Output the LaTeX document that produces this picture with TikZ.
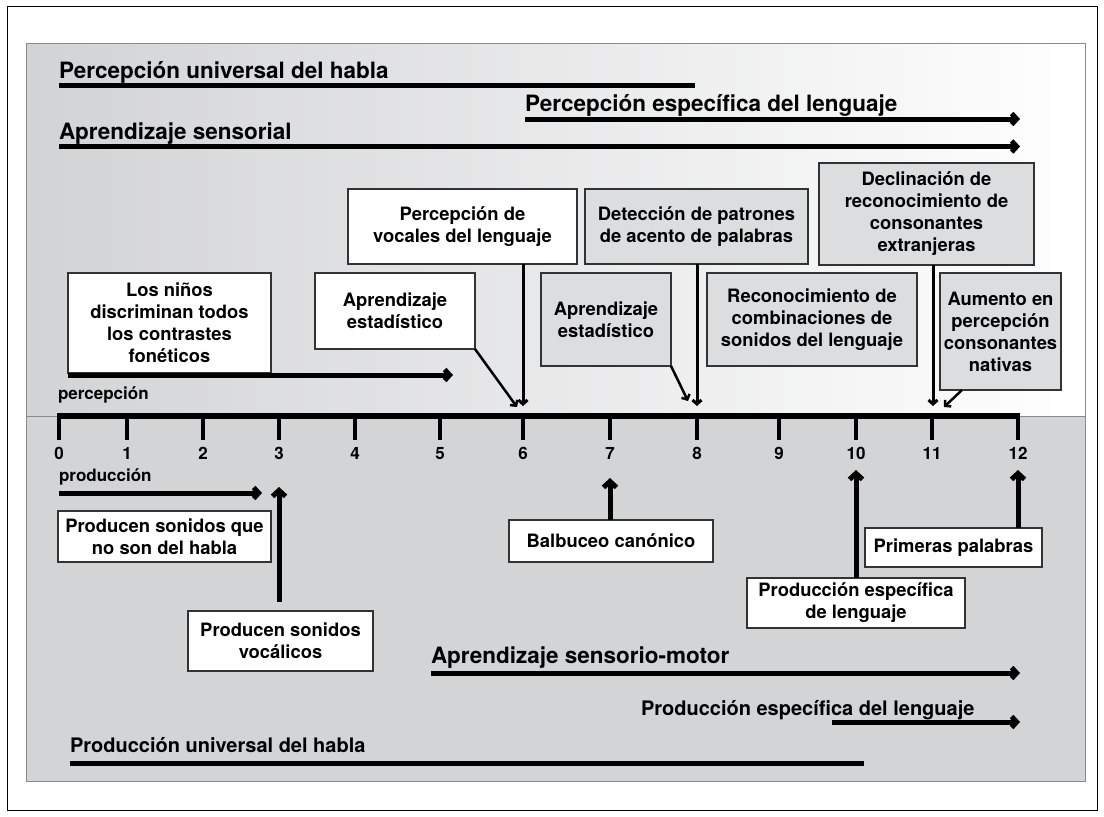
\documentclass[tikz,border=0pt]{standalone}
\usepackage{fontspec}
\setmainfont{TeX Gyre Heros}
\usetikzlibrary{arrows.meta,calc}
\definecolor{panelgray}{HTML}{D3D4D6}
\definecolor{boxgray}{HTML}{DCDDDF}
\definecolor{gradleft}{HTML}{D2D3D5}
\definecolor{edgegray}{HTML}{8A8A8A}
\begin{document}
\begin{tikzpicture}[x=1pt,y=-1pt,
  box/.style={draw=black!80, line width=1.2pt, fill=white, align=center, anchor=north west,
    inner sep=1.5pt, outer sep=0pt, font=\bfseries\fontsize{18.4}{22}\selectfont},
  graybox/.style={box, fill=boxgray},
  biglabel/.style={anchor=base west, inner sep=0pt, outer sep=0pt, font=\bfseries\fontsize{22.5}{26}\selectfont},
  midlabel/.style={anchor=base west, inner sep=0pt, outer sep=0pt, font=\bfseries\fontsize{20}{24}\selectfont},
  smalllabel/.style={anchor=base west, inner sep=0pt, outer sep=0pt, font=\bfseries\fontsize{17}{20}\selectfont},
  ticklabel/.style={anchor=base, inner sep=0pt, font=\bfseries\fontsize{17}{20}\selectfont},
  bar/.style={line width=5pt},
  bararrow/.style={line width=5pt, -{Straight Barb[length=5pt,width=11pt]}},
  pointer/.style={line width=3pt, -{Straight Barb[length=4pt,width=9pt]}},
  diagpointer/.style={line width=2.5pt, -{Straight Barb[length=4pt,width=9pt]}},
  uparrow/.style={line width=5pt, -{Straight Barb[length=6pt,width=13pt]}},
]
\useasboundingbox (0,0) rectangle (1104,817);
\fill[white] (0,0) rectangle (1104,817);
% frame and panel
\draw[line width=1pt] (7,6) rectangle (1097,810);
\shade[left color=gradleft, right color=white] (26,43) rectangle (1085,416);
\fill[panelgray] (26,416) rectangle (1085,781);
\draw[edgegray, line width=0.8pt] (26,43) rectangle (1085,781);
\draw[edgegray, line width=0.8pt] (26,416) -- (1085,416);

% axis
\foreach \n/\x in {0/59,1/127,2/203,3/279,4/355,5/440,6/523,7/610,8/697,9/779,10/856,11/932,12/1018}{
  \coordinate (t\n) at (\x,416);
  \draw[line width=4pt] (t\n) -- ++(0,24);
  \node[ticklabel] (l\n) at (\x,459) {\n};
}
\draw[line width=6pt] ([xshift=-2pt]t0) -- ([xshift=2pt]t12);

% top labels and bars
\node[biglabel] (pu) at (59,78) {Percepción universal del habla};
\coordinate (puEnd) at (695,85);
\draw[bar] (pu.base west |- puEnd) -- (puEnd);
\node[biglabel] (pe) at (525,111) {Percepción específica del lenguaje};
\coordinate (peEnd) at (1020,119);
\draw[bararrow] (pe.base west |- peEnd) -- (peEnd);
\node[biglabel] (as) at (59,139) {Aprendizaje sensorial};
\coordinate (asEnd) at (1020,146.5);
\draw[bararrow] (as.base west |- asEnd) -- (asEnd);

% top boxes
\node[box, minimum width=229pt, minimum height=75pt] (vocales) at (348,189) {Percepción de\\vocales del lenguaje};
\node[graybox, minimum width=223pt, minimum height=75pt] (deteccion) at (585,189) {Detección de patrones\\de acento de palabras};
\node[graybox, minimum width=215pt, minimum height=102pt] (declinacion) at (819,163) {Declinación de\\reconocimiento de\\consonantes\\extranjeras};
\node[box, minimum width=203pt, minimum height=100pt] (ninos) at (68,273) {Los niños\\discriminan todos\\los contrastes\\fonéticos};
\node[box, minimum width=160pt, minimum height=76pt] (estad1) at (315,273) {Aprendizaje\\estadístico};
\node[graybox, minimum width=130pt, minimum height=93pt] (estad2) at (541,273) {Aprendizaje\\estadístico};
\node[graybox, minimum width=210pt, minimum height=93pt] (recon) at (707,273) {Reconocimiento de\\combinaciones de\\sonidos del lenguaje};
\node[graybox, minimum width=121pt, minimum height=117pt] (aumento) at (940,273) {Aumento en\\percepción\\consonantes\\nativas};

\node[smalllabel] (percep) at (58,399) {percepción};

% top connectors
\coordinate (ninosEnd) at (453,375);
\draw[bararrow] (ninos.south west |- ninosEnd) -- (ninosEnd);
\coordinate (tip6) at (523,406);
\draw[pointer] (vocales.south -| tip6) -- (tip6);
\coordinate (tip8) at (697,406);
\draw[pointer] (deteccion.south -| tip8) -- (tip8);
\coordinate (tip11) at (933,406);
\draw[pointer] (declinacion.south -| tip11) -- (tip11);
\coordinate (tipS1) at (517,407);
\draw[diagpointer] (estad1.south east) -- (tipS1);
\coordinate (tipS2) at (688,401);
\draw[diagpointer] (estad2.south east) -- (tipS2);
\coordinate (tipA) at (944,407);
\draw[diagpointer] ($(aumento.south west)+(22,0)$) -- (tipA);

% bottom
\node[smalllabel] (prod) at (59,481) {producción};
\coordinate (prodEnd) at (262,493);
\draw[bararrow] (prod.base west |- prodEnd) -- (prodEnd);

\node[box, minimum width=213pt, minimum height=51pt] (noson) at (58,511) {Producen sonidos que\\no son del habla};
\node[box, minimum width=185pt, minimum height=60pt] (vocalicos) at (188,611) {Producen sonidos\\vocálicos};
\node[box, minimum width=204pt, minimum height=42pt] (balbuceo) at (509,520) {Balbuceo canónico};
\node[box, minimum width=218pt, minimum height=50pt] (prodesp) at (747,578) {Producción específica\\de lenguaje};
\node[box, minimum width=177pt, minimum height=39pt] (primeras) at (865,528) {Primeras palabras};

\coordinate (up3) at (279,487);
\draw[uparrow] ([yshift=9pt]vocalicos.north -| up3) -- (up3);
\coordinate (up7) at (610,478);
\draw[uparrow] (balbuceo.north -| up7) -- (up7);
\coordinate (up10) at (856,470);
\draw[uparrow] (prodesp.north -| up10) -- (up10);
\coordinate (up12) at (1018,470);
\draw[uparrow] (primeras.north -| up12) -- (up12);

\node[biglabel] (asm) at (431,663) {Aprendizaje sensorio-motor};
\coordinate (asmEnd) at (1020,673);
\draw[bararrow] (asm.base west |- asmEnd) -- (asmEnd);
\node[midlabel] (pel) at (641,715) {Producción específica del lenguaje};
\coordinate (pelStart) at (832,722);
\coordinate (pelEnd) at (1020,722);
\draw[bararrow] (pelStart) -- (pelEnd);
\node[midlabel] (puh) at (70,752) {Producción universal del habla};
\coordinate (puhEnd) at (864,763);
\draw[bar] (puh.base west |- puhEnd) -- (puhEnd);
\end{tikzpicture}
\end{document}
